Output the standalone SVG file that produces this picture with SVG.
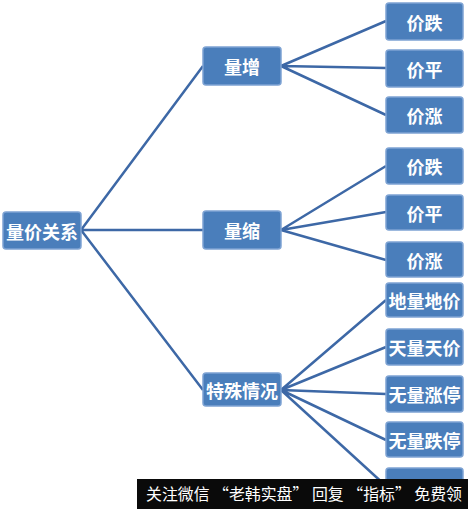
<svg xmlns="http://www.w3.org/2000/svg" width="468" height="509" viewBox="0 0 468 509">
<style>
.box{fill:#4a7ebb;stroke:#7ea3d3;stroke-width:1.5}
.t{font-family:"Noto Sans CJK SC","Noto Sans",sans-serif;font-weight:bold;font-size:18px;fill:#ffffff;text-anchor:middle;dominant-baseline:central}
.c{stroke:#3d68a6;stroke-width:2.5;fill:none}
.ban{font-family:"Noto Sans CJK SC","Noto Sans",sans-serif;font-size:16px;fill:#ffffff}
</style>
<rect width="468" height="509" fill="#ffffff"/>
<g id="connectors">
<path class="c" d="M81 230 L203 66 M81 230 L203 230 M81 230 L203 390"/>
<path class="c" d="M281 66 L386 21 M281 66 L386 68 M281 66 L386 115"/>
<path class="c" d="M281 230 L386 166 M281 230 L386 212 M281 230 L386 260"/>
<path class="c" d="M281 390 L386 300 M281 390 L386 347 M281 390 L386 394 M281 390 L386 440 M281 390 L386 486"/>
</g>
<g id="root"><rect class="box" x="3" y="212" width="78" height="37" rx="3"/><text class="t" x="42" y="230.5">量价关系</text></g>
<g id="n1"><rect class="box" x="203" y="47" width="78" height="38" rx="3"/><text class="t" x="242" y="66">量增</text></g>
<g id="n2"><rect class="box" x="203" y="211" width="78" height="38" rx="3"/><text class="t" x="242" y="230">量缩</text></g>
<g id="n3"><rect class="box" x="203" y="373" width="78" height="33" rx="3"/><text class="t" x="242" y="389.5">特殊情况</text></g>
<g id="l1"><rect class="box" x="386" y="3" width="77" height="37" rx="3"/><text class="t" x="424.5" y="21.5">价跌</text></g>
<g id="l2"><rect class="box" x="386" y="50" width="77" height="37" rx="3"/><text class="t" x="424.5" y="68.5">价平</text></g>
<g id="l3"><rect class="box" x="386" y="97" width="77" height="36" rx="3"/><text class="t" x="424.5" y="115">价涨</text></g>
<g id="l4"><rect class="box" x="386" y="148" width="77" height="36" rx="3"/><text class="t" x="424.5" y="166">价跌</text></g>
<g id="l5"><rect class="box" x="386" y="195" width="77" height="35" rx="3"/><text class="t" x="424.5" y="212.5">价平</text></g>
<g id="l6"><rect class="box" x="386" y="242" width="77" height="35" rx="3"/><text class="t" x="424.5" y="259.5">价涨</text></g>
<g id="s1"><rect class="box" x="386" y="283" width="77" height="34" rx="3"/><text class="t" x="424.5" y="300">地量地价</text></g>
<g id="s2"><rect class="box" x="386" y="329" width="77" height="36" rx="3"/><text class="t" x="424.5" y="347">天量天价</text></g>
<g id="s3"><rect class="box" x="386" y="376" width="77" height="36" rx="3"/><text class="t" x="424.5" y="394">无量涨停</text></g>
<g id="s4"><rect class="box" x="386" y="422" width="77" height="35" rx="3"/><text class="t" x="424.5" y="439.5">无量跌停</text></g>
<g id="s5"><rect class="box" x="386" y="468" width="77" height="36" rx="3"/></g>
<g id="banner"><rect x="137" y="479" width="331" height="30" fill="#0a0a0a"/><text class="ban" x="146" y="500" textLength="316" lengthAdjust="spacingAndGlyphs">关注微信 “老韩实盘” 回复 “指标” 免费领</text></g>
</svg>
